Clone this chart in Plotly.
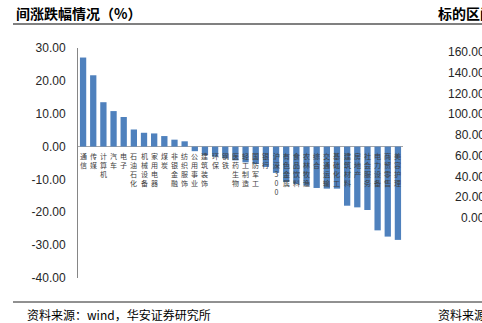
import plotly.graph_objects as go

categories = ["通信", "传媒", "计算机", "汽车", "电子", "石油石化", "机械设备", "家用电器",
              "煤炭", "非银金融", "纺织服饰", "公用事业", "建筑装饰", "环保", "钢铁", "医药生物",
              "轻工制造", "国防军工", "银行", "沪深300", "有色金属", "食品饮料", "农林牧渔", "综合",
              "交通运输", "基础化工", "建筑材料", "房地产", "社会服务", "电力设备", "商贸零售", "美容护理"]
values = [27.1, 21.7, 13.5, 10.8, 9.0, 5.2, 4.2, 4.0,
          3.2, 2.1, 1.6, -1.4, -2.6, -3.1, -3.6, -4.2,
          -4.8, -5.3, -6.2, -8.0, -10.8, -11.4, -11.9, -12.6,
          -12.8, -12.8, -18.0, -18.5, -19.3, -25.5, -27.4, -28.4]
left_ticks = [30, 20, 10, 0, -10, -20, -30, -40]
right_ticks = [160, 140, 120, 100, 80, 60, 40, 20, 0]

W, H = 482, 323
L, R, T, B = 78, 79, 48, 45
pw = W - L - R

CJK = "Noto Sans CJK SC"

fig = go.Figure()
fig.add_trace(go.Bar(x=categories, y=values, marker=dict(color="#4F81BD", line=dict(width=0)),
                     width=0.62, hoverinfo="skip"))
# invisible trace for the right-hand panel axis
fig.add_trace(go.Scatter(x=[categories[0]], y=[0], yaxis="y2", mode="markers",
                         marker=dict(opacity=0), hoverinfo="skip", showlegend=False))

annotations = []
for c in categories:
    if c == "沪深300":
        txt = "沪<br>深<br>3<br>0<br>0"
    else:
        txt = "<br>".join(list(c))
    annotations.append(dict(x=c, y=0, xref="x", yref="y", text=txt, showarrow=False,
                            xanchor="center", yanchor="top", yshift=-2, align="center",
                            font=dict(family=CJK, size=7, color="#404040")))

for v in right_ticks:
    annotations.append(dict(x=(487 - L) / pw, y=v, xref="paper", yref="y2",
                            text=f"{v:.2f}", showarrow=False, xanchor="right", yanchor="middle",
                            font=dict(family="Liberation Sans, Arial", size=12, color="#262626")))

# Titles and sources
annotations += [
    dict(x=(14 - L) / pw, y=1 + (T - 13) / 230, xref="paper", yref="paper", text="<b>间涨跌幅情况（%）</b>",
         showarrow=False, xanchor="left", yanchor="middle",
         font=dict(family=CJK, size=14, color="#000000")),
    dict(x=(436 - L) / pw, y=1 + (T - 13) / 230, xref="paper", yref="paper", text="<b>标的区间</b>",
         showarrow=False, xanchor="left", yanchor="middle",
         font=dict(family=CJK, size=14, color="#000000")),
    dict(x=(25 - L) / pw, y=-(314 - (H - B)) / 230, xref="paper", yref="paper",
         text="资料来源：wind，华安证券研究所", showarrow=False, xanchor="left", yanchor="middle",
         font=dict(family=CJK, size=12, color="#000000")),
    dict(x=(436 - L) / pw, y=-(314 - (H - B)) / 230, xref="paper", yref="paper",
         text="资料来源：wind", showarrow=False, xanchor="left", yanchor="middle",
         font=dict(family=CJK, size=12, color="#000000")),
]

shapes = [
    dict(type="line", xref="paper", yref="paper", x0=(13 - L) / pw, x1=(490 - L) / pw,
         y0=1 + (T - 24) / 230, y1=1 + (T - 24) / 230, line=dict(color="#808080", width=2)),
    dict(type="line", xref="paper", yref="paper", x0=(13 - L) / pw, x1=(490 - L) / pw,
         y0=-(302 - (H - B)) / 230, y1=-(302 - (H - B)) / 230, line=dict(color="#222222", width=1)),
]

fig.update_layout(
    width=W, height=H,
    margin=dict(l=L, r=R, t=T, b=B, pad=0),
    paper_bgcolor="white", plot_bgcolor="white",
    showlegend=False, bargap=0.4,
    xaxis=dict(showticklabels=False, showgrid=False, zeroline=False, showline=False,
               range=[-0.5, len(categories) - 0.5], fixedrange=True),
    yaxis=dict(range=[-40, 30], tickvals=left_ticks, ticktext=[f"{v:.2f}" for v in left_ticks],
               showgrid=False, zeroline=True, zerolinecolor="#A6A6A6", zerolinewidth=1,
               showline=True, linecolor="#868686", linewidth=1, ticks="",
               ticklabelstandoff=9,
               tickfont=dict(family="Liberation Sans, Arial", size=12, color="#262626")),
    yaxis2=dict(range=[-57.8, 163.9], overlaying="y", side="right", visible=False),
    annotations=annotations, shapes=shapes,
)

fig.write_html("out.html")
